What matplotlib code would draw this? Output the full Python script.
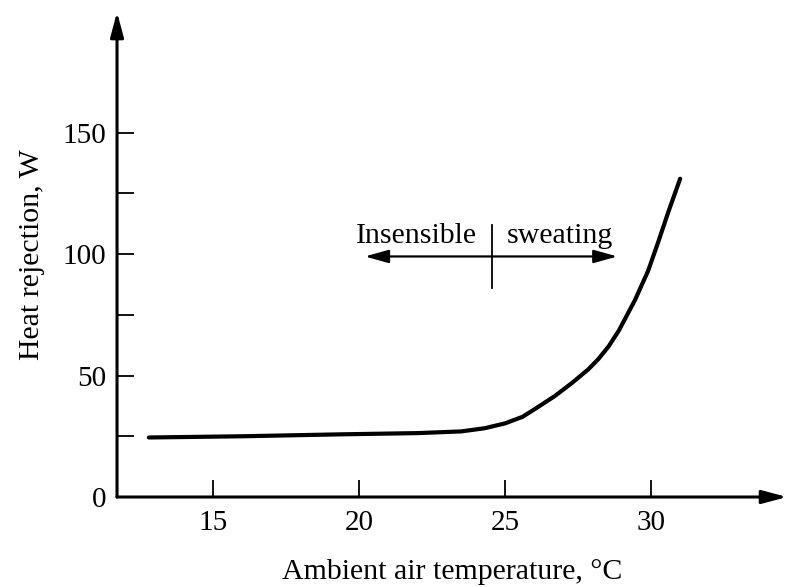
import matplotlib.pyplot as plt
from matplotlib.ticker import FixedLocator

plt.rcParams['font.family'] = ['Liberation Serif', 'DejaVu Serif']

# Curve
temp_c = [12.8, 16.0, 19.4, 22.0, 23.5, 24.3, 25.0, 25.6, 26.1, 26.7, 27.3,
          27.85, 28.2, 28.55, 28.9, 29.45, 29.9, 30.25, 30.6, 31.0]
heat_w = [24.5, 25.0, 25.8, 26.3, 27.0, 28.3, 30.3, 33.0, 36.8, 41.5, 47.0,
          52.5, 56.8, 62.0, 68.5, 81.0, 93.0, 105.0, 117.5, 131.0]

x_ticks = [15, 20, 25, 30]
y_ticks = [0, 50, 100, 150]
y_minor = [25, 75, 125]

# annotation: regime boundary and arrow span
arrow_left, arrow_right, arrow_y = 20.2, 28.85, 99
split_t, split_lo, split_hi = 24.55, 86, 112
label_y = 104.5

fig = plt.figure(figsize=(7.87, 5.87), dpi=100)
ax = fig.add_axes([0.1487, 0.1533, 0.8513, 0.8262])

ax.plot(temp_c, heat_w, color='black', lw=3.0, solid_capstyle='round',
        solid_joinstyle='round')

ax.set_xlim(11.71, 34.66)
ax.set_ylim(0, 199.6)

for s in ax.spines.values():
    s.set_visible(False)

# axes with arrowheads
arrow_style = '-|>,head_length=0.75,head_width=0.2'
ax.annotate('', xy=(1, 0), xytext=(0, 0), xycoords='axes fraction',
            arrowprops=dict(arrowstyle=arrow_style, lw=2.2, color='black',
                            shrinkA=0, shrinkB=0, mutation_scale=20))
ax.annotate('', xy=(0, 1), xytext=(0, 0), xycoords='axes fraction',
            arrowprops=dict(arrowstyle=arrow_style, lw=2.2, color='black',
                            shrinkA=0, shrinkB=0, mutation_scale=20))

ax.set_xticks(x_ticks)
ax.set_yticks(y_ticks)
ax.yaxis.set_minor_locator(FixedLocator(y_minor))
ax.tick_params(which='both', direction='in', length=12, width=1.3,
               labelsize=21, color='black')
ax.tick_params(axis='x', pad=9)
ax.tick_params(axis='y', pad=8)

ax.set_xlabel('Ambient air temperature, °C', fontsize=21.5, labelpad=17)
ax.set_ylabel('Heat rejection, W', fontsize=21.5, labelpad=12)

# insensible / sweating arrow
ax.annotate('', xy=(arrow_left, arrow_y), xytext=(arrow_right, arrow_y),
            arrowprops=dict(arrowstyle='<|-|>,head_length=0.9,head_width=0.25',
                            lw=1.6, color='black', shrinkA=0, shrinkB=0,
                            mutation_scale=16))
ax.plot([split_t, split_t], [split_lo, split_hi], color='black', lw=1.3)
ax.text(split_t - 0.5, label_y, 'Insensible', ha='right', va='baseline',
        fontsize=21.5)
ax.text(split_t + 0.5, label_y, 'sweating', ha='left', va='baseline',
        fontsize=21.5)

fig.savefig('out.png', dpi=100)
